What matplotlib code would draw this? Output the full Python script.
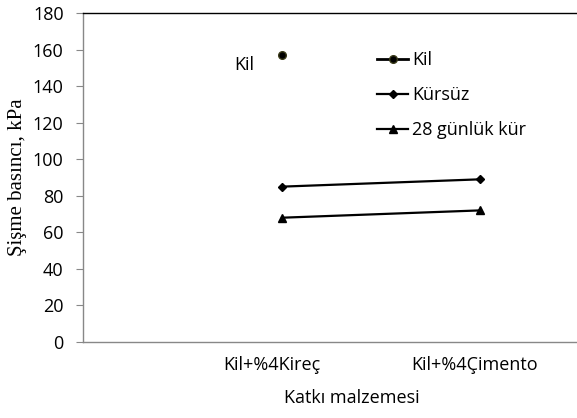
import matplotlib
matplotlib.use("Agg")
import matplotlib.pyplot as plt
from matplotlib.transforms import ScaledTranslation

categories = ["Kil+%4Kireç", "Kil+%4Çimento"]
kil_value = [157]
kursuz = [85, 89]
kur28 = [68, 72]
yticks = [0, 20, 40, 60, 80, 100, 120, 140, 160, 180]

plt.rcParams['font.family'] = ['Open Sans', 'DejaVu Sans']
FS = 13

fig = plt.figure(figsize=(5.77, 4.18), dpi=100)
ax = fig.add_axes([83/577, 1-342/418, 1-83/577, (342-13)/418])

x = [1, 2]
ax.plot([1], kil_value, linestyle='-', marker='o', color='black',
        markerfacecolor='black', markeredgecolor='#3a3a18', markersize=5.5,
        lw=2, label='Kil')
ax.plot(x, kursuz, linestyle='-', marker='D', color='black', markersize=4.5,
        lw=1.6, label='Kürsüz')
ax.plot(x, kur28, linestyle='-', marker='^', color='black', markersize=6,
        lw=1.6, label='28 günlük kür')

ax.text(0.81, kil_value[0] - 5.5, "Kil", fontsize=FS, ha='center', va='center')

ax.set_xlim(-0.005, 2.49)
ax.set_ylim(0, 180)
ax.set_yticks(yticks)
ax.set_xticks(x)
ax.set_xticklabels(categories, fontsize=FS)
ax.tick_params(axis='x', length=0, pad=10)
ax.tick_params(axis='y', length=5, color='#888888', labelsize=FS, pad=9,
               direction='out')
for lab, dx in zip(ax.get_xticklabels(), [-10, -5]):
    lab.set_transform(lab.get_transform() + ScaledTranslation(dx/100, 0, fig.dpi_scale_trans))

for s in ['left', 'bottom']:
    ax.spines[s].set_color('#888888')
    ax.spines[s].set_linewidth(1.0)
ax.spines['right'].set_visible(False)
ax.spines['top'].set_color('black')
ax.spines['top'].set_linewidth(1.0)

ax.set_ylabel("Şişme basıncı, kPa", family=['Liberation Serif', 'DejaVu Serif'],
              fontsize=15)
ax.yaxis.set_label_coords(-(83-27)/494, 0.5)
ax.set_xlabel("Katkı malzemesi", fontsize=FS)
ax.xaxis.set_label_coords((352-83)/494, -(398-342)/329)
ax.xaxis.label.set_va('center')

leg = ax.legend(loc='upper left', bbox_to_anchor=((377-83)/494, 1-(51-13)/329),
                frameon=False, fontsize=FS, labelspacing=0.95,
                handlelength=1.72, handletextpad=0.22, borderpad=0,
                borderaxespad=0)

fig.savefig("out.png", dpi=100)
